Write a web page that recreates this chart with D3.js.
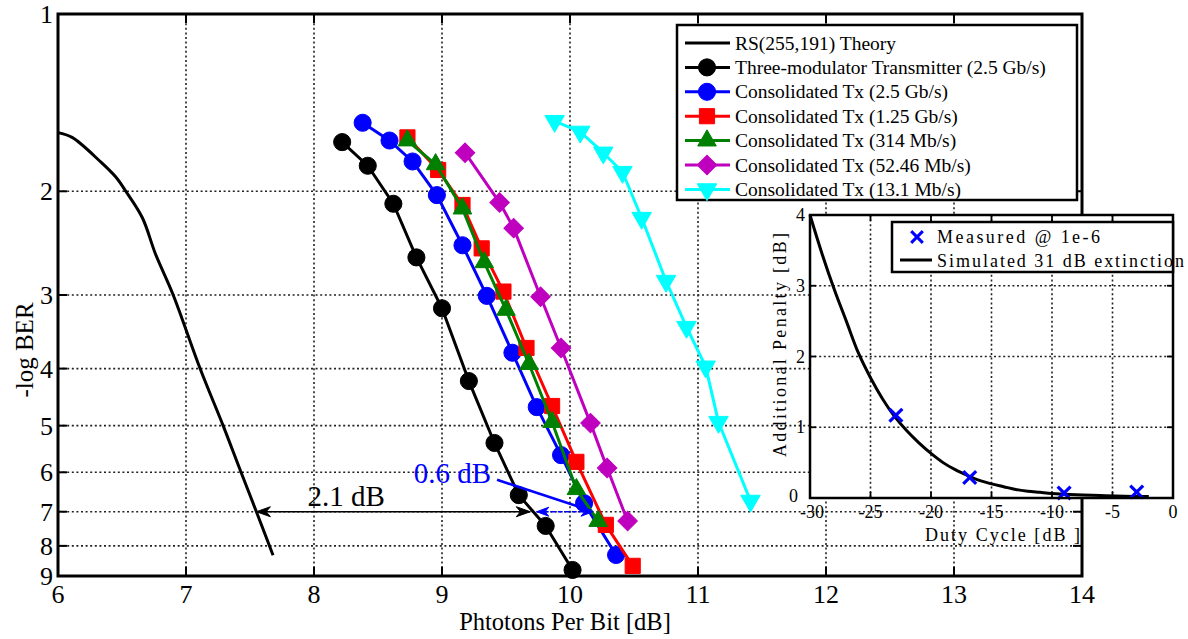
<!DOCTYPE html>
<html><head><meta charset="utf-8">
<script src="https://cdn.jsdelivr.net/npm/d3@7"></script>
<style>
body{margin:0;background:#fff;}
svg{display:block;}
text{font-family:"Liberation Serif","Times New Roman",serif;fill:#000;}
</style>
</head><body>
<svg id="c" width="1188" height="639" font-family="Liberation Serif, Times New Roman, serif"></svg>
<script>
// ---------- data ----------
const xTicks = [6,7,8,9,10,11,12,13,14];
const yTicks = [1,2,3,4,5,6,7,8,9];

const theoryX = [6.0,6.11,6.33,6.45,6.53,6.66,6.76,6.9,7.11,7.29,7.43,7.55,7.68];
const theoryY = [1.59,1.62,1.78,1.89,2.0,2.22,2.55,3.0,4.0,5.0,6.0,7.0,8.3];

const threeModX = [8.22,8.42,8.62,8.8,9.0,9.21,9.41,9.6,9.81,10.02];
const threeModY = [1.65,1.81,2.10,2.59,3.16,4.2,5.35,6.56,7.4,8.79];

const cons25X = [8.38,8.59,8.77,8.96,9.16,9.35,9.55,9.74,9.93,10.11,10.36];
const cons25Y = [1.53,1.64,1.78,2.03,2.47,3.01,3.76,4.65,5.61,6.77,8.29];

const cons125X = [8.73,8.97,9.16,9.31,9.48,9.66,9.86,10.05,10.28,10.49];
const cons125Y = [1.62,1.84,2.11,2.50,2.96,3.69,4.63,5.76,7.37,8.65];

const cons314X = [8.73,8.95,9.16,9.33,9.5,9.68,9.86,10.05,10.22];
const cons314Y = [1.64,1.80,2.14,2.64,3.18,3.93,4.93,6.41,7.26];

const cons52X = [9.18,9.45,9.56,9.77,9.93,10.16,10.29,10.45];
const cons52Y = [1.72,2.09,2.31,3.02,3.69,4.95,5.90,7.26];

const cons13X = [9.88,10.08,10.26,10.41,10.56,10.75,10.91,11.06,11.16,11.41];
const cons13Y = [1.52,1.585,1.72,1.855,2.22,2.84,3.40,3.97,4.93,6.71];

const legendLabels = ["RS(255,191) Theory","Three-modulator Transmitter (2.5 Gb/s)","Consolidated Tx (2.5 Gb/s)","Consolidated Tx (1.25 Gb/s)","Consolidated Tx (314 Mb/s)","Consolidated Tx (52.46 Mb/s)","Consolidated Tx (13.1 Mb/s)"];

// inset data
const insetXTicks = [-30,-25,-20,-15,-10,-5,0];
const insetYTicks = [0,1,2,3,4];
const measuredX = [-22.9,-16.8,-9.0,-3.0];
const measuredY = [1.17,0.29,0.07,0.085];
const simX = [-30,-29,-28,-27,-26,-25,-24,-23,-22,-21,-20,-19,-18,-17,-16,-15,-14,-13,-12,-11,-10,-8,-6,-4,-2];
const simY = [4.0,3.45,2.95,2.5,2.05,1.7,1.4,1.15,0.95,0.78,0.63,0.5,0.4,0.32,0.25,0.2,0.16,0.12,0.095,0.08,0.065,0.045,0.035,0.025,0.02];

// annotations (data coords)
const ann21 = {x1:7.55, x2:9.69, y:7, label:"2.1 dB", lx:7.95, ly:6.84};
const ann06 = {x1:9.74, x2:10.18, y:7, label:"0.6 dB", lx:8.78, ly:6.26, leadX:9.43, leadY:6.18};

// ---------- drawing ----------
const FONT = "Liberation Serif, Times New Roman, serif";
const svg = d3.select("#c");
const L=58, R=1082, T=14, B=576;
const x = d3.scaleLinear().domain([6,14]).range([L,R]);
const y = d3.scaleLog().domain([1,9]).range([T,B]);

svg.append("rect").attr("width",1188).attr("height",639).attr("fill","#fff");

const gridStyle = g => g.attr("stroke","#222").attr("stroke-width",1.6).attr("stroke-dasharray","2,2.6");
svg.append("g").selectAll("line").data(xTicks.slice(1,-1)).join("line")
  .attr("x1",d=>x(d)).attr("x2",d=>x(d)).attr("y1",T).attr("y2",B).call(gridStyle);
svg.append("g").selectAll("line").data(yTicks.slice(1,-1)).join("line")
  .attr("x1",L).attr("x2",R).attr("y1",d=>y(d)).attr("y2",d=>y(d)).call(gridStyle);

const series = [
  {xs:theoryX, ys:theoryY, color:"#000", sym:null, smooth:true},
  {xs:threeModX, ys:threeModY, color:"#000", sym:"circle"},
  {xs:cons25X, ys:cons25Y, color:"#0000ff", sym:"circle"},
  {xs:cons125X, ys:cons125Y, color:"#ff0000", sym:"square"},
  {xs:cons314X, ys:cons314Y, color:"#008000", sym:"triangle"},
  {xs:cons52X, ys:cons52Y, color:"#bf00bf", sym:"diamond"},
  {xs:cons13X, ys:cons13Y, color:"#00ffff", sym:"tridown"}
];
function symPath(s){
  if(s==="circle") return {d:d3.symbol(d3.symbolCircle,230)(), rot:0};
  if(s==="square") return {d:d3.symbol(d3.symbolSquare,230)(), rot:0};
  if(s==="triangle") return {d:d3.symbol(d3.symbolTriangle,150)(), rot:0};
  if(s==="tridown") return {d:d3.symbol(d3.symbolTriangle,165)(), rot:180};
  if(s==="diamond") return {d:d3.symbol(d3.symbolSquare,190)(), rot:45};
}
const line = d3.line();
const smoothLine = d3.line().curve(d3.curveCatmullRom.alpha(0.5));
series.forEach(s=>{
  const pts = s.xs.map((v,i)=>[x(v), y(s.ys[i])]);
  svg.append("path").attr("d",(s.smooth?smoothLine:line)(pts)).attr("fill","none").attr("stroke",s.color)
    .attr("stroke-width",3).attr("stroke-linejoin","round");
  if(s.sym){
    const sp = symPath(s.sym);
    svg.append("g").selectAll("path").data(pts).join("path")
      .attr("d",sp.d).attr("transform",d=>`translate(${d[0]},${d[1]}) rotate(${sp.rot})`)
      .attr("fill",s.color).attr("stroke",s.color).attr("stroke-width",1);
  }
});

function arrowHead(px,py,dir,color,len,hw){
  const p = `M${px},${py} L${px-dir*len},${py-hw} L${px-dir*len*0.7},${py} L${px-dir*len},${py+hw} Z`;
  svg.append("path").attr("d",p).attr("fill",color).attr("stroke",color).attr("stroke-width",1);
}
{
  const yy = y(ann21.y);
  svg.append("line").attr("x1",x(ann21.x1)).attr("x2",x(ann21.x2)).attr("y1",yy).attr("y2",yy)
    .attr("stroke","#000").attr("stroke-width",1.6);
  arrowHead(x(ann21.x1),yy,-1,"#000",14,5);
  arrowHead(x(ann21.x2),yy,1,"#000",14,5);
  svg.append("text").attr("x",x(ann21.lx)).attr("y",y(ann21.ly)).attr("font-family",FONT).attr("font-size",29).text(ann21.label);
}
{
  const yy = y(ann06.y);
  svg.append("line").attr("x1",x(ann06.x1)).attr("x2",x(ann06.x2)).attr("y1",yy).attr("y2",yy)
    .attr("stroke","#0000ff").attr("stroke-width",1.6).attr("stroke-dasharray","5,2");
  arrowHead(x(ann06.x1),yy,-1,"#0000ff",12,4.5);
  arrowHead(x(ann06.x2),yy,1,"#0000ff",12,4.5);
  svg.append("line").attr("x1",x(ann06.leadX)).attr("y1",y(ann06.leadY)).attr("x2",x(ann06.x2)-2).attr("y2",yy-1)
    .attr("stroke","#0000ff").attr("stroke-width",2.6);
  svg.append("text").attr("x",x(ann06.lx)).attr("y",y(ann06.ly)).attr("font-family",FONT).attr("font-size",29)
    .style("fill","#0000ff").text(ann06.label);
}

svg.append("rect").attr("x",L).attr("y",T).attr("width",R-L).attr("height",B-T)
  .attr("fill","none").attr("stroke","#000").attr("stroke-width",3);
const tk = 9;
xTicks.forEach(v=>{
  svg.append("line").attr("x1",x(v)).attr("x2",x(v)).attr("y1",B).attr("y2",B-tk).attr("stroke","#000").attr("stroke-width",2);
  svg.append("line").attr("x1",x(v)).attr("x2",x(v)).attr("y1",T).attr("y2",T+tk).attr("stroke","#000").attr("stroke-width",2);
});
yTicks.forEach(v=>{
  svg.append("line").attr("x1",L).attr("x2",L+tk).attr("y1",y(v)).attr("y2",y(v)).attr("stroke","#000").attr("stroke-width",2);
  svg.append("line").attr("x1",R).attr("x2",R-tk).attr("y1",y(v)).attr("y2",y(v)).attr("stroke","#000").attr("stroke-width",2);
});
svg.append("g").selectAll("text").data(xTicks).join("text")
  .attr("x",d=>x(d)).attr("y",603).attr("text-anchor","middle").attr("font-family",FONT).attr("font-size",26).text(d=>d);
svg.append("g").selectAll("text").data(yTicks).join("text")
  .attr("x",53).attr("y",d=>y(d)+9).attr("text-anchor","end").attr("font-family",FONT).attr("font-size",26).text(d=>d);
svg.append("text").attr("x",565).attr("y",630).attr("text-anchor","middle").attr("font-family",FONT).attr("font-size",24.5).text("Phtotons Per Bit [dB]");
svg.append("text").attr("transform","translate(33,350) rotate(-90)").attr("text-anchor","middle").attr("font-family",FONT).attr("font-size",25).text("-log BER");

const lg = svg.append("g");
lg.append("rect").attr("x",677).attr("y",25).attr("width",400).attr("height",175)
  .attr("fill","#fff").attr("stroke","#000").attr("stroke-width",2.5);
legendLabels.forEach((lab,i)=>{
  const cy = 43 + i*24.4;
  const s = series[i];
  lg.append("line").attr("x1",685).attr("x2",730).attr("y1",cy).attr("y2",cy).attr("stroke",s.color).attr("stroke-width",3);
  if(s.sym){
    const sp = symPath(s.sym);
    lg.append("path").attr("d",sp.d).attr("transform",`translate(707,${cy}) rotate(${sp.rot})`)
      .attr("fill",s.color).attr("stroke",s.color);
  }
  lg.append("text").attr("x",735).attr("y",cy+6.5).attr("font-family",FONT).attr("font-size",19.5).text(lab);
});

// ---------- inset ----------
const IL=810, IR=1173, IT=215, IB=498;
const ix = d3.scaleLinear().domain([-30,0]).range([IL,IR]);
const iy = d3.scaleLinear().domain([0,4]).range([IB,IT]);
const ins = svg.append("g");
ins.append("rect").attr("x",IL).attr("y",IT).attr("width",IR-IL).attr("height",IB-IT).attr("fill","#fff");
ins.append("g").selectAll("line").data(insetXTicks.slice(1,-1)).join("line")
  .attr("x1",d=>ix(d)).attr("x2",d=>ix(d)).attr("y1",IT).attr("y2",IB).call(gridStyle);
ins.append("g").selectAll("line").data(insetYTicks.slice(1,-1)).join("line")
  .attr("x1",IL).attr("x2",IR).attr("y1",d=>iy(d)).attr("y2",d=>iy(d)).call(gridStyle);
ins.append("path").attr("d",smoothLine(simX.map((v,i)=>[ix(v),iy(simY[i])])))
  .attr("fill","none").attr("stroke","#000").attr("stroke-width",3);
const xMark = d3.symbol(d3.symbolX,110)();
ins.append("g").selectAll("path").data(measuredX.map((v,i)=>[ix(v),iy(measuredY[i])])).join("path")
  .attr("d",xMark).attr("transform",d=>`translate(${d[0]},${d[1]})`)
  .attr("fill","none").attr("stroke","#0000ff").attr("stroke-width",3.2);
ins.append("rect").attr("x",IL).attr("y",IT).attr("width",IR-IL).attr("height",IB-IT)
  .attr("fill","none").attr("stroke","#000").attr("stroke-width",2.5);
const itk=6;
insetXTicks.forEach(v=>{
  ins.append("line").attr("x1",ix(v)).attr("x2",ix(v)).attr("y1",IB).attr("y2",IB-itk).attr("stroke","#000").attr("stroke-width",1.8);
  ins.append("line").attr("x1",ix(v)).attr("x2",ix(v)).attr("y1",IT).attr("y2",IT+itk).attr("stroke","#000").attr("stroke-width",1.8);
});
insetYTicks.forEach(v=>{
  ins.append("line").attr("x1",IL).attr("x2",IL+itk).attr("y1",iy(v)).attr("y2",iy(v)).attr("stroke","#000").attr("stroke-width",1.8);
  ins.append("line").attr("x1",IR).attr("x2",IR-itk).attr("y1",iy(v)).attr("y2",iy(v)).attr("stroke","#000").attr("stroke-width",1.8);
});
ins.append("g").selectAll("text").data(insetXTicks).join("text")
  .attr("x",d=>ix(d)+(d===-30?2:0)).attr("y",518).attr("text-anchor","middle").attr("font-family",FONT).attr("font-size",18).text(d=>d);
ins.append("g").selectAll("text").data(insetYTicks).join("text")
  .attr("x",d=>d===0?798:805).attr("y",d=>iy(d)+6-(d===0?2:0)).attr("text-anchor","end").attr("font-family",FONT).attr("font-size",18).text(d=>d);
ins.append("text").attr("x",925).attr("y",541).attr("font-family",FONT).attr("font-size",18).attr("textLength",155).attr("lengthAdjust","spacing").text("Duty Cycle [dB ]");
ins.append("text").attr("transform","translate(786,457) rotate(-90)").attr("font-family",FONT).attr("font-size",18)
  .attr("textLength",224).attr("lengthAdjust","spacing").text("Additional Penalty [dB]");
ins.append("rect").attr("x",892).attr("y",222).attr("width",281).attr("height",50)
  .attr("fill","#fff").attr("stroke","#000").attr("stroke-width",2.5);
ins.append("path").attr("d",d3.symbol(d3.symbolX,90)()).attr("transform","translate(917,237)")
  .attr("fill","none").attr("stroke","#0000ff").attr("stroke-width",3);
ins.append("text").attr("x",937).attr("y",243).attr("font-family",FONT).attr("font-size",18).attr("textLength",163).attr("lengthAdjust","spacing").text("Measured @  1e-6");
ins.append("line").attr("x1",900).attr("x2",932).attr("y1",260).attr("y2",260).attr("stroke","#000").attr("stroke-width",3);
ins.append("text").attr("x",937).attr("y",267).attr("font-family",FONT).attr("font-size",18).attr("textLength",247).attr("lengthAdjust","spacing").text("Simulated 31 dB extinction");
</script>
</body></html>
